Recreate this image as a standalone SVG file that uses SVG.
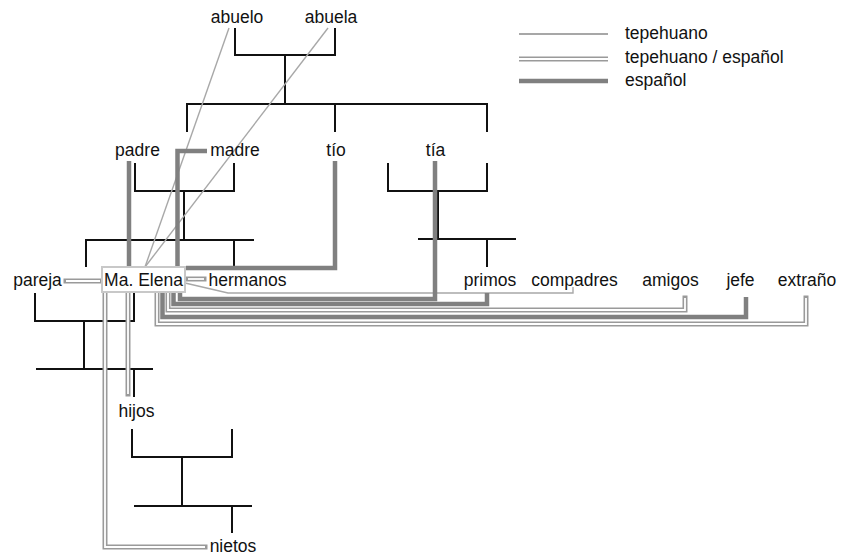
<svg xmlns="http://www.w3.org/2000/svg" width="841" height="559" viewBox="0 0 841 559">
<style>
text{font-family:"Liberation Sans",Arial,sans-serif;font-size:17.5px;fill:#111}
.c{text-anchor:middle}
.tree{stroke:#111;stroke-width:2;fill:none}
.thin{stroke:#a8a8a8;stroke-width:1.4;fill:none}
.thick{stroke:#808080;stroke-width:4.5;fill:none}
.dblo{stroke:#9a9a9a;stroke-width:5;fill:none;stroke-linecap:square}
.dbli{stroke:#fff;stroke-width:1.8;fill:none}
</style>
<rect width="841" height="559" fill="#fff"/>
<g id="connectors">
  <g id="tree-lines">
    <path class="tree" d="M235,28 V55 H335 V28 M285,55 V104 M187,132 V104 H487 V132 M335,104 V132"/>
    <path class="tree" d="M135,163 V191 H234 V163 M184,191 V240 M86,267 V240 H254 M234,240 V267"/>
    <path class="tree" d="M388,163 V191 H487 V163 M438,191 V239 M418,239 H516 M487,239 V267"/>
    <path class="tree" d="M35,293 V321 H134 V293 M84,321 V369 M36,369 H153 M134,369 V397"/>
    <path class="tree" d="M132,429 V457 H232 V429 M182,457 V506 M134,506 H252 M232,506 V533"/>
  </g>
  <g id="tepehuano">
    <path class="thin" d="M145,267 L229,28"/>
    <path class="thin" d="M145,267 L328,28"/>
    <path class="thin" d="M185,283 L228,293 H573 V287"/>
  </g>
  <g id="espanol">
    <path class="thick" d="M129,161 V267"/>
    <path class="thick" d="M207,151 H177.5 V267"/>
    <path class="thick" d="M335,161 V268 H186"/>
    <path class="thick" d="M746,297 V317 H162.5 V292"/>
    <path class="thick" d="M487,293 V304 H173.5 V292"/>
    <path class="thick" d="M435,161 V299 H180 V292"/>
  </g>
  <g id="tepehuano-espanol">
    <path class="dblo" d="M806,298 V324 H157 V293"/>
    <path class="dbli" d="M806,298 V324 H157 V293"/>
    <path class="dblo" d="M685,298 V310 H168 V293"/>
    <path class="dbli" d="M685,298 V310 H168 V293"/>
    <path class="dblo" d="M66,281 H100"/>
    <path class="dbli" d="M66,281 H100"/>
    <path class="dblo" d="M188,279 H204"/>
    <path class="dbli" d="M188,279 H204"/>
    <path class="dblo" d="M128,293 V394"/>
    <path class="dbli" d="M128,293 V394"/>
    <path class="dblo" d="M105,293 V547 H205"/>
    <path class="dbli" d="M105,293 V547 H205"/>
  </g>
</g>
<g id="abuelo"><text class="c" x="237" y="23">abuelo</text></g>
<g id="abuela"><text class="c" x="331" y="23">abuela</text></g>
<g id="padre"><text class="c" x="137.5" y="156">padre</text></g>
<g id="madre"><text class="c" x="235" y="156">madre</text></g>
<g id="tio"><text class="c" x="336" y="156">tío</text></g>
<g id="tia"><text class="c" x="435.5" y="156">tía</text></g>
<g id="ma-elena">
  <rect x="102" y="267" width="83" height="25" fill="#fff" stroke="#c8c8c8" stroke-width="2"/>
  <text class="c" x="143.5" y="286">Ma. Elena</text>
</g>
<g id="pareja"><text class="c" x="37.5" y="286">pareja</text></g>
<g id="hermanos"><text class="c" x="247.5" y="286">hermanos</text></g>
<g id="primos"><text class="c" x="490" y="286">primos</text></g>
<g id="compadres"><text class="c" x="574.5" y="286">compadres</text></g>
<g id="amigos"><text class="c" x="670.5" y="286">amigos</text></g>
<g id="jefe"><text class="c" x="740.5" y="286">jefe</text></g>
<g id="extrano"><text class="c" x="807" y="286">extraño</text></g>
<g id="hijos"><text class="c" x="136.5" y="417">hijos</text></g>
<g id="nietos"><text class="c" x="233" y="552">nietos</text></g>
<g id="legend">
  <line x1="519" y1="34" x2="608" y2="34" stroke="#8a8a8a" stroke-width="1.4"/>
  <line x1="519" y1="59" x2="608" y2="59" stroke="#9a9a9a" stroke-width="5"/>
  <line x1="519" y1="59" x2="608" y2="59" stroke="#fff" stroke-width="1.8"/>
  <line x1="519" y1="81" x2="608" y2="81" stroke="#808080" stroke-width="4.5"/>
  <text x="625" y="39">tepehuano</text>
  <text x="625" y="63">tepehuano / español</text>
  <text x="625" y="86">español</text>
</g>
</svg>
